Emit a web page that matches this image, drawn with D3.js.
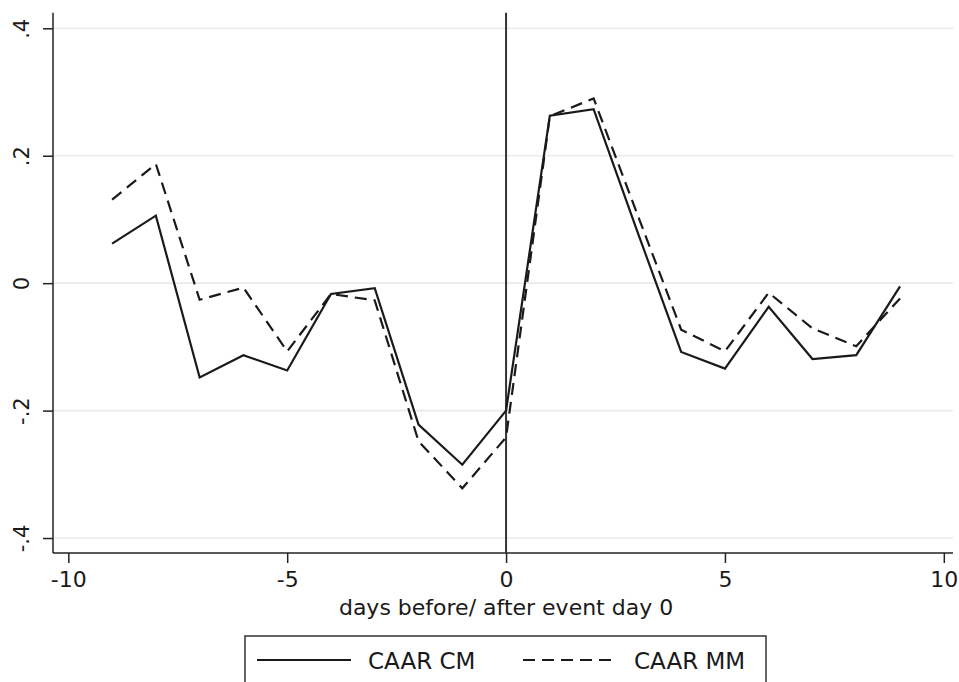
<html>
    <head>
        <meta charset="utf-8">
        <title>CAAR event study</title>

        <script src="https://d3js.org/d3.v7.min.js"></script>

        <style>
            body {
                margin: 0;
                padding: 0;
                background: white;
            }
            text {
                font-family: "DejaVu Sans", sans-serif;
                fill: #1a1a1a;
            }
        </style>
    </head>

    <body>
        <svg id="chart" width="959" height="682"></svg>
    </body>

    <script>
        // event days
        const days = [-9, -8, -7, -6, -5, -4, -3, -2, -1, 0, 1, 2, 3, 4, 5, 6, 7, 8, 9];
        // CAAR constant mean model
        const caarCM = [0.062, 0.106, -0.148, -0.113, -0.137, -0.017, -0.008, -0.222, -0.285, -0.200,
                        0.263, 0.273, 0.081, -0.108, -0.134, -0.037, -0.119, -0.113, -0.005];
        // CAAR market model
        const caarMM = [0.131, 0.187, -0.026, -0.007, -0.107, -0.017, -0.027, -0.248, -0.322, -0.242,
                        0.262, 0.290, 0.108, -0.073, -0.107, -0.015, -0.071, -0.099, -0.024];

        const xTicks = [-10, -5, 0, 5, 10];
        const xTickLabels = ["-10", "-5", "0", "5", "10"];
        const yTicks = [-0.4, -0.2, 0, 0.2, 0.4];
        const yTickLabels = ["-.4", "-.2", "0", ".2", ".4"];
        const xTitle = "days before/ after event day 0";
        const legendLabels = ["CAAR CM", "CAAR MM"];

        const svg = d3.select("#chart");

        const plot = { left: 53, right: 953, top: 12.7, bottom: 553 };
        const dash = "12,7";

        const x = d3.scaleLinear().domain([-10.35, 10.21]).range([plot.left, plot.right]);
        const y = d3.scaleLinear().domain([-0.4235, 0.4245]).range([plot.bottom, plot.top]);

        // gridlines
        svg.append("g").selectAll("line.grid").data(yTicks)
            .join("line")
            .attr("class", "grid")
            .attr("x1", plot.left).attr("x2", plot.right)
            .attr("y1", d => y(d)).attr("y2", d => y(d))
            .attr("stroke", "#eaeaea")
            .attr("stroke-width", 1.6);

        // y axis
        const yAxis = d3.axisLeft(y).tickValues(yTicks).tickSize(10)
            .tickFormat((d, i) => yTickLabels[i]);
        const gy = svg.append("g")
            .attr("transform", "translate(" + plot.left + ",0)")
            .call(yAxis);
        gy.select(".domain").remove();
        gy.selectAll(".tick line").attr("stroke", "#222").attr("stroke-width", 1.5);
        gy.selectAll(".tick text")
            .attr("x", null)
            .attr("transform", "translate(-31.5,0) rotate(-90)")
            .attr("text-anchor", "middle")
            .attr("dy", "0.36em")
            .attr("font-size", 21)
            .attr("fill", "#1a1a1a");
        svg.append("line")
            .attr("x1", plot.left).attr("x2", plot.left)
            .attr("y1", plot.top).attr("y2", plot.bottom)
            .attr("stroke", "#222").attr("stroke-width", 1.5);

        // x axis
        const xAxis = d3.axisBottom(x).tickValues(xTicks).tickSize(10)
            .tickFormat((d, i) => xTickLabels[i]);
        const gx = svg.append("g")
            .attr("transform", "translate(0," + plot.bottom + ")")
            .call(xAxis);
        gx.select(".domain").remove();
        gx.selectAll(".tick line").attr("stroke", "#222").attr("stroke-width", 1.5);
        gx.selectAll(".tick text")
            .attr("y", 34).attr("dy", null)
            .attr("font-size", 22)
            .attr("fill", "#1a1a1a");
        svg.append("line")
            .attr("x1", plot.left).attr("x2", plot.right)
            .attr("y1", plot.bottom).attr("y2", plot.bottom)
            .attr("stroke", "#222").attr("stroke-width", 1.5);

        // x title
        svg.append("text")
            .attr("x", x(0)).attr("y", 615)
            .attr("text-anchor", "middle")
            .attr("font-size", 22)
            .text(xTitle);

        // event day line
        svg.append("line")
            .attr("x1", x(0)).attr("x2", x(0))
            .attr("y1", plot.top).attr("y2", plot.bottom)
            .attr("stroke", "#333").attr("stroke-width", 2);

        const line = d3.line().x((d, i) => x(days[i])).y(d => y(d));

        svg.append("path").datum(caarCM)
            .attr("d", line)
            .attr("fill", "none")
            .attr("stroke", "#1a1a1a")
            .attr("stroke-width", 2.2);

        svg.append("path").datum(caarMM)
            .attr("d", line)
            .attr("fill", "none")
            .attr("stroke", "#1a1a1a")
            .attr("stroke-width", 2.2)
            .attr("stroke-dasharray", dash);

        // legend
        const legend = svg.append("g");
        legend.append("rect")
            .attr("x", 245).attr("y", 636)
            .attr("width", 521).attr("height", 60)
            .attr("fill", "white")
            .attr("stroke", "#333").attr("stroke-width", 1.5);

        const items = [
            { label: legendLabels[0], x0: 257, dash: null },
            { label: legendLabels[1], x0: 523, dash: dash }
        ];
        legend.selectAll("line.key").data(items)
            .join("line")
            .attr("class", "key")
            .attr("x1", d => d.x0).attr("x2", d => d.x0 + 94)
            .attr("y1", 660).attr("y2", 660)
            .attr("stroke", "#1a1a1a").attr("stroke-width", 2.2)
            .attr("stroke-dasharray", d => d.dash);
        legend.selectAll("text.key").data(items)
            .join("text")
            .attr("class", "key")
            .attr("x", d => d.x0 + 111).attr("y", 669)
            .attr("font-size", 23)
            .text(d => d.label);
    </script>
</html>
